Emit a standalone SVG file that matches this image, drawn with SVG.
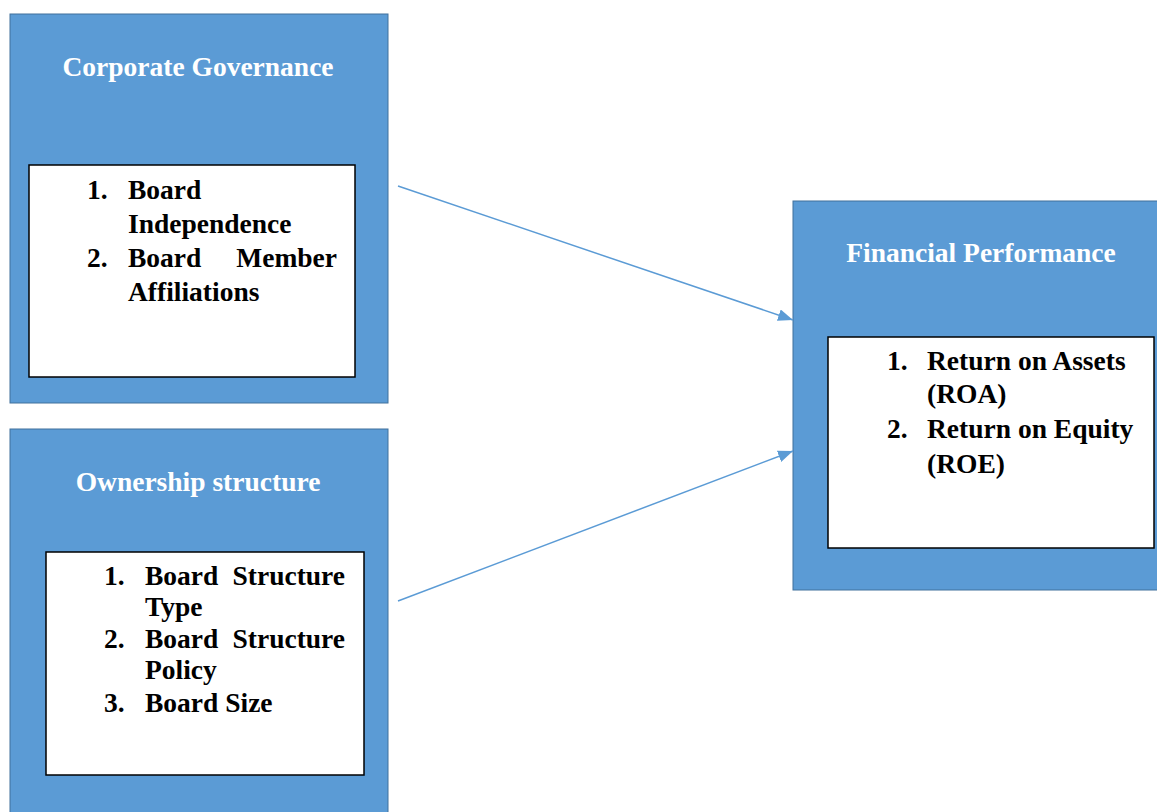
<svg xmlns="http://www.w3.org/2000/svg" width="1157" height="812" viewBox="0 0 1157 812">
  <style>
    .outer { fill: #5B9BD5; stroke: #41719C; stroke-width: 1; }
    .inner { fill: #FFFFFF; stroke: #000000; stroke-width: 1.5; }
    .title { font-family: "Liberation Serif", "Times New Roman", serif; font-weight: bold; font-size: 27.5px; fill: #FFFFFF; text-anchor: middle; }
    .item { font-family: "Liberation Serif", "Times New Roman", serif; font-weight: bold; font-size: 27.5px; fill: #000000; }
    .end { text-anchor: end; }
    .link { stroke: #5B9BD5; stroke-width: 1.5; fill: none; marker-end: url(#arrow); }
  </style>
  <defs>
    <marker id="arrow" markerUnits="userSpaceOnUse" markerWidth="16" markerHeight="12" refX="15" refY="6" orient="auto">
      <path d="M0,0 L15,6 L0,12 Z" fill="#5B9BD5"/>
    </marker>
  </defs>
  <rect width="1157" height="812" fill="#FFFFFF"/>

  <!-- Corporate Governance -->
  <g id="corporate-governance">
    <rect class="outer" x="10" y="14" width="378" height="389"/>
    <text class="title" x="198" y="76">Corporate Governance</text>
    <rect class="inner" x="29" y="165" width="326" height="212"/>
    <text class="item" x="87" y="199">1.</text>
    <text class="item" x="128" y="199">Board</text>
    <text class="item" x="128" y="233">Independence</text>
    <text class="item" x="87" y="267">2.</text>
    <text class="item" x="128" y="267">Board</text>
    <text class="item end" x="337" y="267">Member</text>
    <text class="item" x="128" y="301">Affiliations</text>
  </g>

  <!-- Ownership structure -->
  <g id="ownership-structure">
    <rect class="outer" x="10" y="429" width="378" height="390"/>
    <text class="title" x="198" y="491">Ownership structure</text>
    <rect class="inner" x="46" y="552" width="318" height="223"/>
    <text class="item" x="104" y="585">1.</text>
    <text class="item" x="145" y="585">Board</text>
    <text class="item end" x="345" y="585">Structure</text>
    <text class="item" x="145" y="616">Type</text>
    <text class="item" x="104" y="648">2.</text>
    <text class="item" x="145" y="648">Board</text>
    <text class="item end" x="345" y="648">Structure</text>
    <text class="item" x="145" y="679">Policy</text>
    <text class="item" x="104" y="712">3.</text>
    <text class="item" x="145" y="712">Board Size</text>
  </g>

  <!-- Financial Performance -->
  <g id="financial-performance">
    <rect class="outer" x="793" y="201" width="370" height="389"/>
    <text class="title" x="981" y="262">Financial Performance</text>
    <rect class="inner" x="828" y="337" width="326" height="211"/>
    <text class="item" x="887" y="370">1.</text>
    <text class="item" x="927" y="370">Return on Assets</text>
    <text class="item" x="927" y="403">(ROA)</text>
    <text class="item" x="887" y="438">2.</text>
    <text class="item" x="927" y="438">Return on Equity</text>
    <text class="item" x="927" y="473">(ROE)</text>
  </g>

  <!-- Connectors -->
  <g id="connectors">
    <line class="link" x1="398" y1="186" x2="793" y2="320"/>
    <line class="link" x1="398" y1="601" x2="793" y2="451"/>
  </g>
</svg>
